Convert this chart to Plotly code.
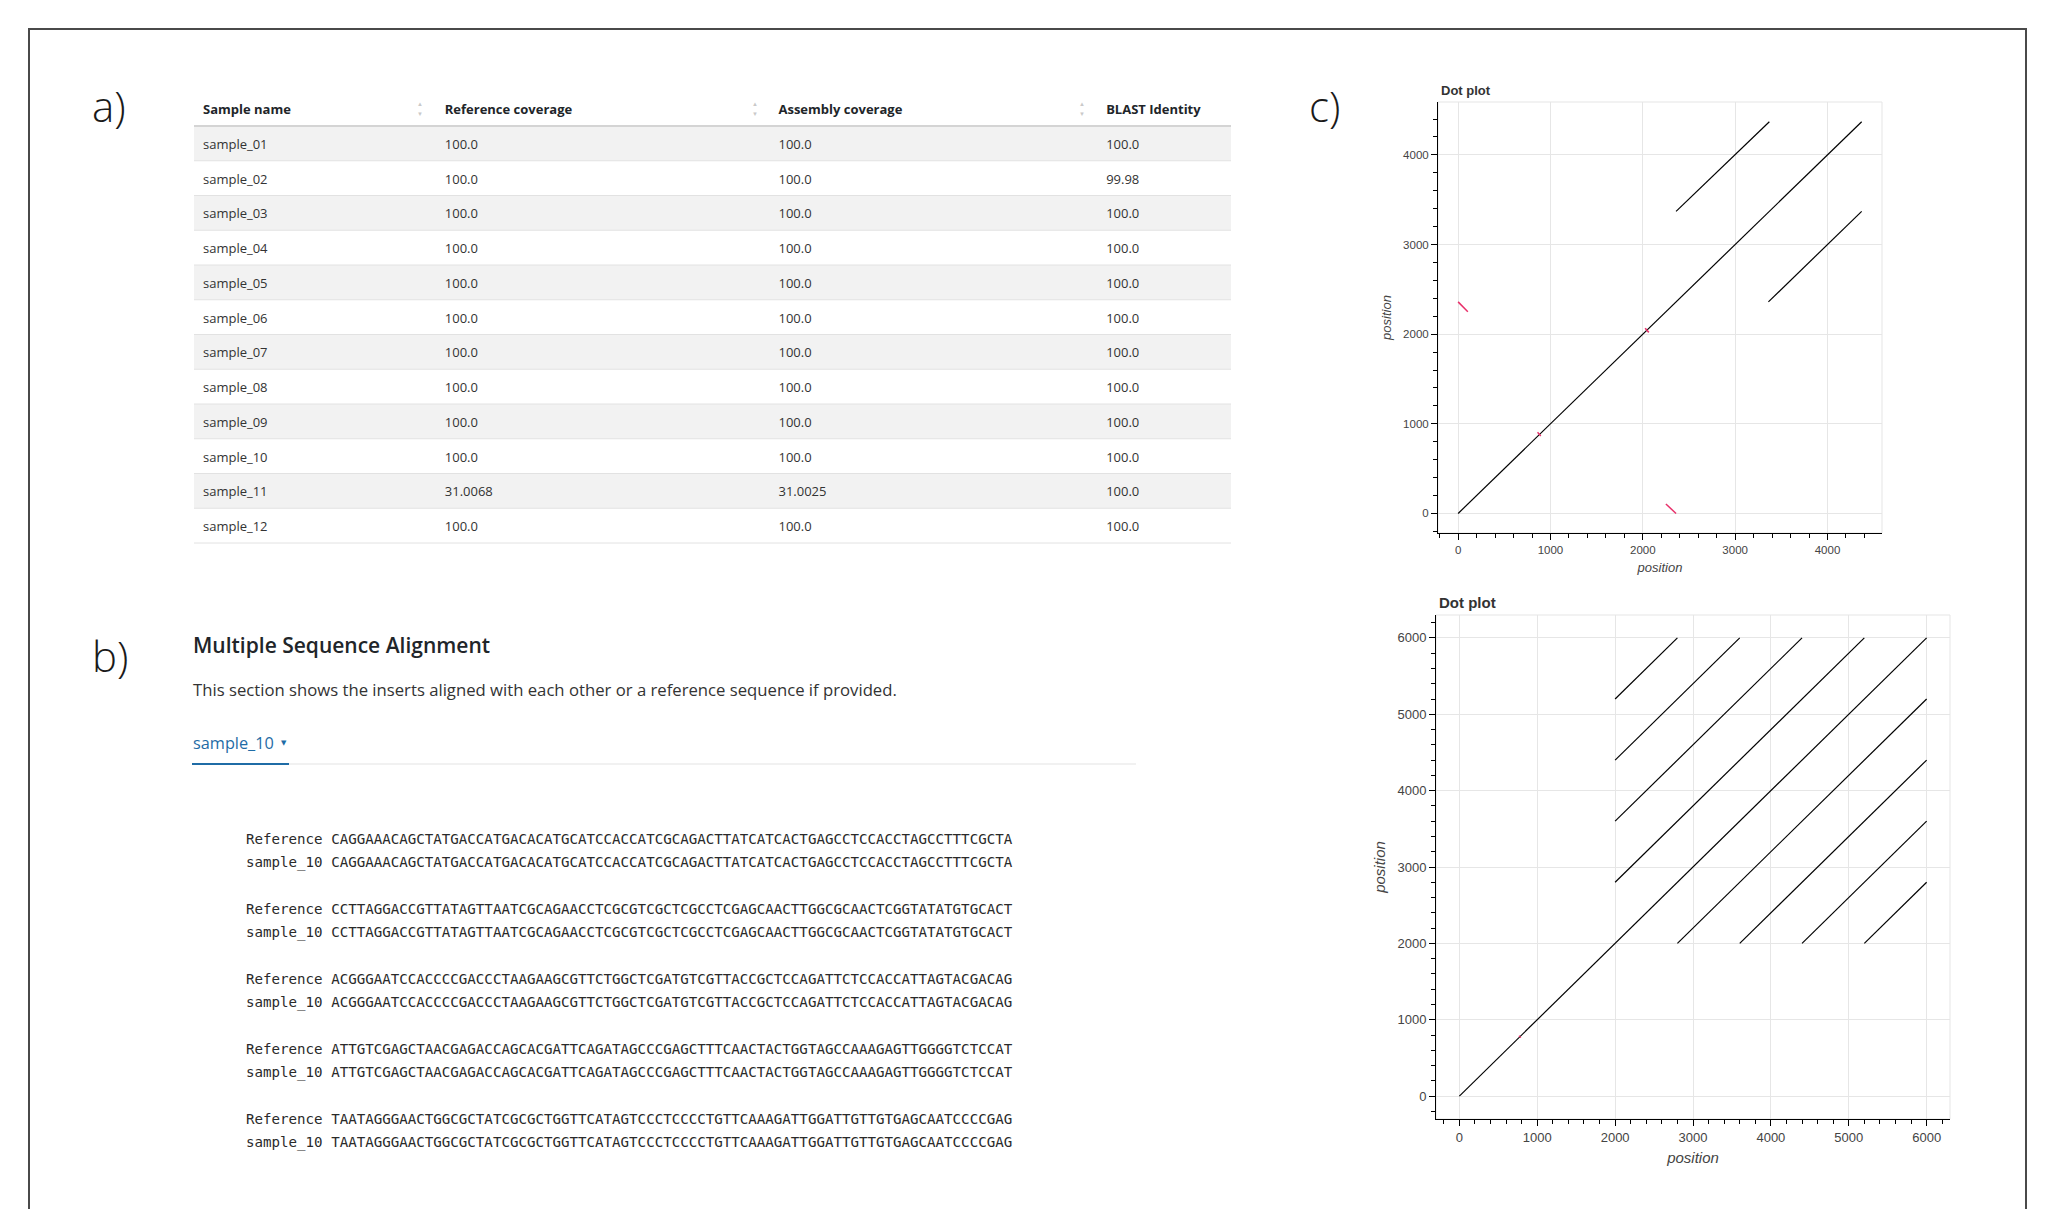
import plotly.graph_objects as go

W, H = 2052, 1209

# ---------------- data ----------------
table_columns = ["Sample name", "Reference coverage", "Assembly coverage", "BLAST Identity"]
sample_names = ["sample_01", "sample_02", "sample_03", "sample_04", "sample_05", "sample_06",
                "sample_07", "sample_08", "sample_09", "sample_10", "sample_11", "sample_12"]
reference_coverage = [100.0, 100.0, 100.0, 100.0, 100.0, 100.0, 100.0, 100.0, 100.0, 100.0, 31.0068, 100.0]
assembly_coverage = [100.0, 100.0, 100.0, 100.0, 100.0, 100.0, 100.0, 100.0, 100.0, 100.0, 31.0025, 100.0]
blast_identity = [100.0, 99.98, 100.0, 100.0, 100.0, 100.0, 100.0, 100.0, 100.0, 100.0, 100.0, 100.0]

msa_labels = ["Reference", "sample_10"]
reference_blocks = [
    "CAGGAAACAGCTATGACCATGACACATGCATCCACCATCGCAGACTTATCATCACTGAGCCTCCACCTAGCCTTTCGCTA",
    "CCTTAGGACCGTTATAGTTAATCGCAGAACCTCGCGTCGCTCGCCTCGAGCAACTTGGCGCAACTCGGTATATGTGCACT",
    "ACGGGAATCCACCCCGACCCTAAGAAGCGTTCTGGCTCGATGTCGTTACCGCTCCAGATTCTCCACCATTAGTACGACAG",
    "ATTGTCGAGCTAACGAGACCAGCACGATTCAGATAGCCCGAGCTTTCAACTACTGGTAGCCAAAGAGTTGGGGTCTCCAT",
    "TAATAGGGAACTGGCGCTATCGCGCTGGTTCATAGTCCCTCCCCTGTTCAAAGATTGGATTGTTGTGAGCAATCCCCGAG",
]
sample_10_blocks = [
    "CAGGAAACAGCTATGACCATGACACATGCATCCACCATCGCAGACTTATCATCACTGAGCCTCCACCTAGCCTTTCGCTA",
    "CCTTAGGACCGTTATAGTTAATCGCAGAACCTCGCGTCGCTCGCCTCGAGCAACTTGGCGCAACTCGGTATATGTGCACT",
    "ACGGGAATCCACCCCGACCCTAAGAAGCGTTCTGGCTCGATGTCGTTACCGCTCCAGATTCTCCACCATTAGTACGACAG",
    "ATTGTCGAGCTAACGAGACCAGCACGATTCAGATAGCCCGAGCTTTCAACTACTGGTAGCCAAAGAGTTGGGGTCTCCAT",
    "TAATAGGGAACTGGCGCTATCGCGCTGGTTCATAGTCCCTCCCCTGTTCAAAGATTGGATTGTTGTGAGCAATCCCCGAG",
]

# dot plot 1 segments (forward = black, reverse = red)
dp1_fwd_x0 = [0, 2360, 3360]
dp1_fwd_y0 = [0, 3370, 2360]
dp1_fwd_x1 = [4370, 3370, 4370]
dp1_fwd_y1 = [4370, 4370, 3370]
dp1_rev_x0 = [0, 2250, 860, 2025]
dp1_rev_y0 = [2360, 105, 905, 2065]
dp1_rev_x1 = [105, 2360, 895, 2065]
dp1_rev_y1 = [2250, 0, 865, 2020]

# dot plot 2 segments
dp2_fwd_x0 = [0, 2000, 2000, 2000, 2000, 2800, 3600, 4400, 5200]
dp2_fwd_y0 = [0, 5200, 4400, 3600, 2800, 2000, 2000, 2000, 2000]
dp2_fwd_x1 = [6000, 2800, 3600, 4400, 5200, 6000, 6000, 6000, 6000]
dp2_fwd_y1 = [6000, 6000, 6000, 6000, 6000, 5200, 4400, 3600, 2800]
dp2_rev_x0 = [765]
dp2_rev_y0 = [790]
dp2_rev_x1 = [790]
dp2_rev_y1 = [765]

dp1_ticks = [0, 1000, 2000, 3000, 4000]
dp2_ticks = [0, 1000, 2000, 3000, 4000, 5000, 6000]


def px(x):
    return x / W


def py(y):
    return 1 - y / H


def segs(x0, y0, x1, y1):
    xs, ys = [], []
    for a, b, c, d in zip(x0, y0, x1, y1):
        xs += [a, c, None]
        ys += [b, d, None]
    return xs, ys


fig = go.Figure()
shapes = []
annotations = []

# ---------------- table (a) ----------------
TL, TR = 195, 1231
T_TOP = 92            # top of the visual header row
HDR_H = 34            # visual header height
ROW_H = 34.75
TAB_TOP = 91.7        # top of the plotly table (text placement)
TAB_HDR = 39.5        # plotly header height (text placement)
n_rows = len(sample_names)
row_fill = ["#f2f2f2" if i % 2 == 0 else "#ffffff" for i in range(n_rows)]

# striped row backgrounds
for i, col in enumerate(row_fill):
    shapes.append(dict(type="rect", xref="paper", yref="paper", x0=px(TL - 1), x1=px(TR),
                       y0=py(T_TOP + HDR_H + ROW_H * (i + 1)), y1=py(T_TOP + HDR_H + ROW_H * i),
                       fillcolor=col, line=dict(width=0), layer="below"))

TRANSP = "rgba(0,0,0,0)"
fig.add_trace(go.Table(
    domain=dict(x=[px(TL), px(TR)],
                y=[py(TAB_TOP + TAB_HDR + ROW_H * n_rows + 8), py(TAB_TOP)]),
    columnwidth=[242, 334, 328, 132],
    header=dict(values=[f"<b>{c}</b>" for c in table_columns],
                fill_color=TRANSP, line=dict(color=TRANSP, width=0), align="left",
                font=dict(family="Open Sans", size=13, color="#212529"), height=TAB_HDR),
    cells=dict(values=[sample_names,
                       [str(v) for v in reference_coverage],
                       [str(v) for v in assembly_coverage],
                       [str(v) for v in blast_identity]],
               fill_color=TRANSP, line=dict(color=TRANSP, width=0), align="left",
               font=dict(family="Open Sans", size=13, color="#333333"), height=ROW_H),
))

# header bottom border and row separators
shapes.append(dict(type="line", xref="paper", yref="paper", x0=px(TL - 1), x1=px(TR),
                   y0=py(T_TOP + HDR_H), y1=py(T_TOP + HDR_H), line=dict(color="#d4d4d4", width=2)))
for k in range(1, n_rows + 1):
    yy = T_TOP + HDR_H + ROW_H * k
    shapes.append(dict(type="line", xref="paper", yref="paper", x0=px(TL - 1), x1=px(TR),
                       y0=py(yy), y1=py(yy), line=dict(color="#e2e2e2", width=1)))

# sort icons
for xi in [420, 755, 1082]:
    annotations.append(dict(text="▲", x=px(xi), y=py(104), xref="paper", yref="paper", showarrow=False,
                            font=dict(size=6, color="#c9c9c9"), xanchor="center", yanchor="middle"))
    annotations.append(dict(text="▼", x=px(xi), y=py(114), xref="paper", yref="paper", showarrow=False,
                            font=dict(size=6, color="#c9c9c9"), xanchor="center", yanchor="middle"))

# panel labels
for lab, xx, yy in [("a)", 90, 105), ("b)", 90, 655), ("c)", 1307, 105)]:
    annotations.append(dict(text=lab, x=px(xx), y=py(yy), xref="paper", yref="paper", showarrow=False,
                            xanchor="left", yanchor="middle",
                            font=dict(family="Open Sans", size=42, color="#1a1a1a", weight=300)))

# ---------------- MSA (b) ----------------
annotations.append(dict(text="Multiple Sequence Alignment", x=px(191), y=py(645), xref="paper", yref="paper",
                        showarrow=False, xanchor="left", yanchor="middle",
                        font=dict(family="Open Sans", size=21, color="#212529", weight=600)))
annotations.append(dict(text="This section shows the inserts aligned with each other or a reference sequence if provided.",
                        x=px(191), y=py(690), xref="paper", yref="paper", showarrow=False,
                        xanchor="left", yanchor="middle",
                        font=dict(family="Open Sans", size=16.7, color="#333333")))
annotations.append(dict(text="sample_10", x=px(191), y=py(743), xref="paper", yref="paper", showarrow=False,
                        xanchor="left", yanchor="middle",
                        font=dict(family="Open Sans", size=16.3, color="#1f6ca6", weight=500)))
annotations.append(dict(text="▼", x=px(284), y=py(743), xref="paper", yref="paper", showarrow=False,
                        xanchor="center", yanchor="middle",
                        font=dict(family="DejaVu Sans", size=7, color="#1f6ca6")))
shapes.append(dict(type="line", xref="paper", yref="paper", x0=px(192), x1=px(1136), y0=py(764), y1=py(764),
                   line=dict(color="#e3e3e3", width=1)))
shapes.append(dict(type="line", xref="paper", yref="paper", x0=px(192), x1=px(289), y0=py(764), y1=py(764),
                   line=dict(color="#1f6ca6", width=2)))

MSA_Y0 = 839
MSA_BLOCK = 70
MSA_LINE = 23.5
for i, (ref_seq, smp_seq) in enumerate(zip(reference_blocks, sample_10_blocks)):
    for j, (lab, seq) in enumerate(zip(msa_labels, [ref_seq, smp_seq])):
        annotations.append(dict(text=f"{lab} {seq}", x=px(244), y=py(MSA_Y0 + MSA_BLOCK * i + MSA_LINE * j),
                                xref="paper", yref="paper", showarrow=False, xanchor="left", yanchor="middle",
                                font=dict(family="DejaVu Sans Mono", size=14.15, color="#2a2a2a")))

# ---------------- dot plots (c) ----------------
RED = "#e8306a"
x1s, y1s = segs(dp1_fwd_x0, dp1_fwd_y0, dp1_fwd_x1, dp1_fwd_y1)
fig.add_trace(go.Scatter(x=x1s, y=y1s, mode="lines", line=dict(color="black", width=1.2),
                         xaxis="x", yaxis="y", showlegend=False, hoverinfo="skip"))
x1r, y1r = segs(dp1_rev_x0, dp1_rev_y0, dp1_rev_x1, dp1_rev_y1)
fig.add_trace(go.Scatter(x=x1r, y=y1r, mode="lines", line=dict(color=RED, width=1.5),
                         xaxis="x", yaxis="y", showlegend=False, hoverinfo="skip"))
x2s, y2s = segs(dp2_fwd_x0, dp2_fwd_y0, dp2_fwd_x1, dp2_fwd_y1)
fig.add_trace(go.Scatter(x=x2s, y=y2s, mode="lines", line=dict(color="black", width=1.2),
                         xaxis="x2", yaxis="y2", showlegend=False, hoverinfo="skip"))
x2r, y2r = segs(dp2_rev_x0, dp2_rev_y0, dp2_rev_x1, dp2_rev_y1)
fig.add_trace(go.Scatter(x=x2r, y=y2r, mode="lines", line=dict(color=RED, width=1.2),
                         xaxis="x2", yaxis="y2", showlegend=False, hoverinfo="skip"))


def axis_style(tickvals, rng, dom, size, title_size, standoff):
    return dict(domain=dom, range=rng, tickvals=tickvals, showline=True, linecolor="black", linewidth=1,
                ticks="outside", ticklen=6, tickcolor="black", tickwidth=1,
                tickfont=dict(family="Liberation Sans", size=size, color="#444444"),
                showgrid=True, gridcolor="#e6e6e6", gridwidth=1, zeroline=False,
                minor=dict(ticks="outside", ticklen=4, tickcolor="black", tickwidth=1, dtick=200, tick0=0,
                           showgrid=False),
                title=dict(text="position", standoff=standoff,
                           font=dict(family="Liberation Sans", size=title_size, color="#444444", style="italic")),
                fixedrange=True)


P1 = dict(l=1438, r=1882, t=102, b=533)
P2 = dict(l=1436, r=1950, t=615, b=1119)

layout_axes = dict(
    xaxis=dict(anchor="y", **axis_style(dp1_ticks, [-218, 4590], [px(P1["l"]), px(P1["r"])], 11.5, 13, 8)),
    yaxis=dict(anchor="x", **axis_style(dp1_ticks, [-218, 4590], [py(P1["b"]), py(P1["t"])], 11.5, 13, 8)),
    xaxis2=dict(anchor="y2", **axis_style(dp2_ticks, [-300, 6300], [px(P2["l"]), px(P2["r"])], 13, 15, 8)),
    yaxis2=dict(anchor="x2", **axis_style(dp2_ticks, [-300, 6300], [py(P2["b"]), py(P2["t"])], 13, 15, 8)),
)

for xr, yr in [("x", "y"), ("x2", "y2")]:
    shapes.append(dict(type="rect", xref=f"{xr} domain", yref=f"{yr} domain", x0=0, x1=1, y0=0, y1=1,
                       line=dict(color="#e5e5e5", width=1), layer="below"))

annotations.append(dict(text="<b>Dot plot</b>", x=px(1439), y=py(90), xref="paper", yref="paper", showarrow=False,
                        xanchor="left", yanchor="middle",
                        font=dict(family="Liberation Sans", size=13, color="#333333")))
annotations.append(dict(text="<b>Dot plot</b>", x=px(1437), y=py(602), xref="paper", yref="paper", showarrow=False,
                        xanchor="left", yanchor="middle",
                        font=dict(family="Liberation Sans", size=15, color="#333333")))

# outer frame (open at the bottom)
shapes.append(dict(type="path", xref="paper", yref="paper",
                   path=f"M {px(29)} {py(1215)} L {px(29)} {py(29)} L {px(2026)} {py(29)} L {px(2026)} {py(1215)}",
                   line=dict(color="#4a4a4a", width=2)))

fig.update_layout(
    width=W, height=H, autosize=False,
    margin=dict(l=0, r=0, t=0, b=0, pad=0),
    paper_bgcolor="white", plot_bgcolor="white",
    showlegend=False,
    shapes=shapes, annotations=annotations,
    **layout_axes,
)

fig.write_html("out.html", config={"displayModeBar": False},
               post_script="document.body.style.margin='0';document.body.style.overflow='hidden';")
